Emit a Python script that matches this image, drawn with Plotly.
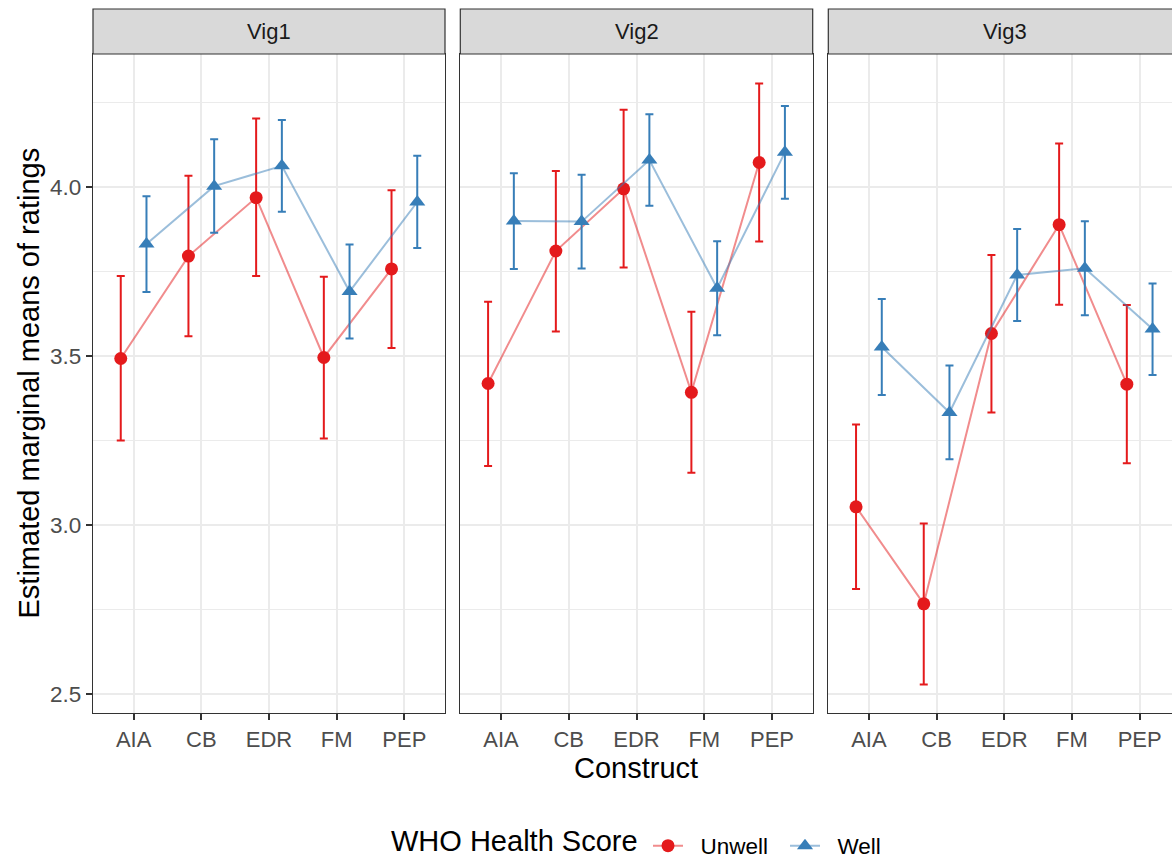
import plotly.graph_objects as go

# ---------------- data ----------------
constructs = ["AIA", "CB", "EDR", "FM", "PEP"]
vignettes = ["Vig1", "Vig2", "Vig3"]
groups = ["Unwell", "Well"]

vig1_unwell_mean = [3.493, 3.796, 3.969, 3.496, 3.758]
vig1_unwell_low = [3.250, 3.559, 3.737, 3.256, 3.524]
vig1_unwell_high = [3.737, 4.034, 4.203, 3.735, 3.991]
vig1_well_mean = [3.832, 4.003, 4.063, 3.691, 3.956]
vig1_well_low = [3.690, 3.865, 3.927, 3.552, 3.820]
vig1_well_high = [3.973, 4.142, 4.199, 3.830, 4.093]

vig2_unwell_mean = [3.419, 3.811, 3.995, 3.393, 4.073]
vig2_unwell_low = [3.175, 3.573, 3.762, 3.155, 3.839]
vig2_unwell_high = [3.661, 4.048, 4.229, 3.631, 4.307]
vig2_well_mean = [3.900, 3.898, 4.080, 3.701, 4.103]
vig2_well_low = [3.758, 3.759, 3.945, 3.562, 3.966]
vig2_well_high = [4.041, 4.037, 4.216, 3.840, 4.240]

vig3_unwell_mean = [3.054, 2.767, 3.567, 3.889, 3.417]
vig3_unwell_low = [2.811, 2.528, 3.333, 3.652, 3.183]
vig3_unwell_high = [3.298, 3.005, 3.799, 4.129, 3.651]
vig3_well_mean = [3.527, 3.333, 3.740, 3.760, 3.580]
vig3_well_low = [3.385, 3.195, 3.604, 3.621, 3.444]
vig3_well_high = [3.669, 3.472, 3.876, 3.899, 3.715]

y_ticks = [2.5, 3.0, 3.5, 4.0]
y_tick_labels = ["2.5", "3.0", "3.5", "4.0"]

# ---------------- style ----------------
FONT = "Liberation Sans, Arial, Helvetica, sans-serif"
RED = "#E41A1C"
BLUE = "#377EB8"
RED_A = "rgba(228,26,28,0.5)"
BLUE_A = "rgba(55,126,184,0.5)"
GRID = "#EBEBEB"
BORDER = "#333333"

W, H = 1172, 859
ML, MR, MT, MB = 93, 0, 54, 146
PW = W - ML - MR
PH = H - MT - MB

domains = [[0.0, 352 / PW], [(460.3 - ML) / PW, (812.7 - ML) / PW], [(828.3 - ML) / PW, 1.0]]
px_per_unit = 352 / 5.2
x_ranges = [[0.4, 5.6], [0.4, 5.6], [0.4, 0.4 + (W - 828.3) / px_per_unit]]
y_range = [2.444, 4.394]
dodge = {"Unwell": -0.19, "Well": 0.19}

data = {
    ("Vig1", "Unwell"): (vig1_unwell_mean, vig1_unwell_low, vig1_unwell_high),
    ("Vig1", "Well"): (vig1_well_mean, vig1_well_low, vig1_well_high),
    ("Vig2", "Unwell"): (vig2_unwell_mean, vig2_unwell_low, vig2_unwell_high),
    ("Vig2", "Well"): (vig2_well_mean, vig2_well_low, vig2_well_high),
    ("Vig3", "Unwell"): (vig3_unwell_mean, vig3_unwell_low, vig3_unwell_high),
    ("Vig3", "Well"): (vig3_well_mean, vig3_well_low, vig3_well_high),
}
style = {
    "Unwell": dict(color=RED, line=RED_A, symbol="circle", size=13),
    "Well": dict(color=BLUE, line=BLUE_A, symbol="triangle-up", size=14),
}

NBSP = "\u00a0\u00a0"

fig = go.Figure()
for vi, vig in enumerate(vignettes):
    suffix = "" if vi == 0 else str(vi + 1)
    for g in groups:
        m, lo, hi = data[(vig, g)]
        st = style[g]
        xs = [i + 1 + dodge[g] for i in range(len(constructs))]
        fig.add_trace(go.Scatter(
            x=xs, y=m, mode="lines+markers", name=NBSP + g,
            legendgroup=g, showlegend=(vi == 0),
            xaxis="x" + suffix, yaxis="y" + suffix,
            line=dict(color=st["line"], width=2),
            marker=dict(color=st["color"], symbol=st["symbol"], size=st["size"],
                        line=dict(width=0)),
            error_y=dict(type="data", symmetric=False,
                         array=[h - v for h, v in zip(hi, m)],
                         arrayminus=[v - l for v, l in zip(m, lo)],
                         color=st["color"], thickness=2, width=4),
            customdata=constructs,
            hovertemplate="%{customdata}: %{y:.3f}<extra>" + g + "</extra>",
        ))

layout = dict(
    width=W, height=H,
    margin=dict(l=ML, r=MR, t=MT, b=MB, pad=0),
    paper_bgcolor="white", plot_bgcolor="white",
    font=dict(family=FONT, size=22, color="#1A1A1A"),
    showlegend=True,
    legend=dict(orientation="h", xref="paper", x=(648 - ML) / PW, xanchor="left",
                yref="container", y=(H - 846) / H, yanchor="middle",
                font=dict(size=22.5, color="black", family=FONT),
                itemwidth=30, entrywidth=92, entrywidthmode="pixels",
                bgcolor="rgba(0,0,0,0)", borderwidth=0, tracegroupgap=0),
)

for vi in range(3):
    suffix = "" if vi == 0 else str(vi + 1)
    xa = dict(
        domain=domains[vi], range=x_ranges[vi], anchor="y" + suffix,
        tickmode="array", tickvals=[1, 2, 3, 4, 5], ticktext=constructs,
        showgrid=True, gridcolor=GRID, gridwidth=2.3, zeroline=False,
        showline=True, linecolor=BORDER, linewidth=1.2, mirror=True,
        ticks="outside", ticklen=6, tickwidth=2, tickcolor=BORDER,
        tickfont=dict(size=22, color="#4D4D4D", family=FONT),
        fixedrange=True,
    )
    ya = dict(
        domain=[0, 1], range=y_range, anchor="x" + suffix,
        tickmode="array", tickvals=y_ticks, ticktext=y_tick_labels,
        showgrid=True, gridcolor=GRID, gridwidth=2.3, zeroline=False,
        minor=dict(showgrid=True, gridcolor=GRID, gridwidth=1.2, tickmode="array",
                   tickvals=[2.75, 3.25, 3.75, 4.25]),
        showline=True, linecolor=BORDER, linewidth=1.2, mirror=(vi < 2),
        ticks="outside" if vi == 0 else "", ticklen=6, tickwidth=2, tickcolor=BORDER,
        showticklabels=(vi == 0),
        tickfont=dict(size=22.5, color="#4D4D4D", family=FONT),
        fixedrange=True,
    )
    if vi > 0:
        ya["matches"] = "y"
    layout["xaxis" + suffix] = xa
    layout["yaxis" + suffix] = ya

fig.update_layout(**layout)

# strips
strip_y0 = 1.0
strip_y1 = 1.0 + 45 / PH
shapes = []
annotations = []
strip_centers = [(92.7 + 444.7) / 2, (460.3 + 812.7) / 2, 1004.5]
for vi, vig in enumerate(vignettes):
    x0, x1 = domains[vi]
    if vi == 2:
        x1 = 1.02
    shapes.append(dict(type="rect", xref="paper", yref="paper", x0=x0, x1=x1,
                       y0=strip_y0, y1=strip_y1, fillcolor="#D9D9D9",
                       line=dict(color=BORDER, width=1.2), layer="above"))
    annotations.append(dict(text=vig, xref="paper", yref="paper",
                            x=(strip_centers[vi] - ML) / PW, y=(strip_y0 + strip_y1) / 2,
                            xanchor="center", yanchor="middle", showarrow=False,
                            font=dict(size=22, color="#1A1A1A", family=FONT)))

# axis titles
annotations.append(dict(text="Construct", xref="paper", yref="paper",
                        x=(636 - ML) / PW, y=(713.3 - 768) / PH, xanchor="center",
                        yanchor="middle", showarrow=False,
                        font=dict(size=29, color="black", family=FONT)))
annotations.append(dict(text="Estimated marginal means of ratings", xref="paper", yref="paper",
                        x=(28 - ML) / PW, y=0.5, xanchor="center", yanchor="middle",
                        textangle=-90, showarrow=False,
                        font=dict(size=29, color="black", family=FONT)))
# legend title
annotations.append(dict(text="WHO Health Score", xref="paper", yref="paper",
                        x=(640 - ML) / PW, y=(713.3 - 841) / PH, xanchor="right",
                        yanchor="middle", showarrow=False,
                        font=dict(size=29, color="black", family=FONT)))

fig.update_layout(shapes=shapes, annotations=annotations)

fig.write_html("out.html", post_script="document.body.style.margin='0';",
               config={"displayModeBar": False})
